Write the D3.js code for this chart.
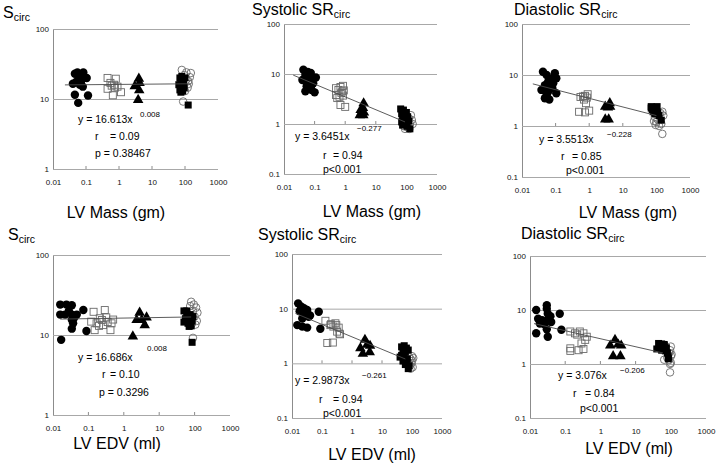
<!DOCTYPE html>
<html>
<head>
<meta charset="utf-8">
<script src="https://cdn.jsdelivr.net/npm/d3@7"></script>
<style>
  body { margin: 0; background: #fff; }
  svg { display: block; font-family: "Liberation Sans", Arial, sans-serif; }
</style>
</head>
<body>
<svg id="chart" width="718" height="467"></svg>
<script>
// ---- data ----
const xTicks = [0.01, 0.1, 1, 10, 100, 1000];
const yTicksS = [1, 10, 100];
const yTicksSR = [0.1, 1, 10, 100];

const titles = ['S', 'Systolic SR', 'Diastolic SR', 'S', 'Systolic SR', 'Diastolic SR'];
const xTitles = ['LV Mass (gm)', 'LV Mass (gm)', 'LV Mass (gm)', 'LV EDV (ml)', 'LV EDV (ml)', 'LV EDV (ml)'];
const eqCoef = ['16.613', '3.6451', '3.5513', '16.686', '2.9873', '3.076'];
const eqExp = ['0.008', '\u22120.277', '\u22120.228', '0.008', '\u22120.261', '\u22120.206'];
const rVals = ['0.09', '0.94', '0.85', '0.10', '0.94', '0.84'];
const pVals = ['p = 0.38467', 'p<0.001', 'p<0.001', 'p = 0.3296', 'p<0.001', 'p<0.001'];

// LV mass vs S circ
const mS_dot = [[0.046,23],[0.083,24],[0.105,20],[0.063,20],[0.05,17.5],[0.07,17.5],[0.065,16],[0.08,15],[0.04,16.5],[0.046,11.5],[0.115,11.2],[0.058,8.8],[0.06,22],[0.072,19],[0.055,24]];
const mS_box = [[0.45,20],[0.8,19.5],[0.55,17],[0.7,16],[0.9,15],[0.45,14],[0.75,14.5],[1.15,12.5],[0.65,11.3],[0.6,15.5]];
const mS_tri = [[4.0,19.5],[4.2,17],[3.0,15.2],[4.1,13.3],[3.8,9.7]];
const mS_blk = [[70,20],[85,19],[75,18],[90,17],[65,16],[80,15.5],[95,14.5],[70,13.5],[85,13],[75,12.5],[125,8.2],[100,20],[80,21]];
const mS_ring = [[80,26],[110,24],[150,23.5],[140,20.5],[125,18],[130,16.5],[120,14.5],[100,13],[88,9.2],[95,22],[110,19]];
const mS_fit = [[0.023,15.9],[150,16.5]];

// LV mass vs systolic SR circ
const mSys_dot = [[0.043,12.2],[0.06,11],[0.075,10.5],[0.05,9.5],[0.07,8.8],[0.11,8.5],[0.04,7.6],[0.06,7],[0.09,6.5],[0.055,5.7],[0.075,5.5],[0.05,4.5],[0.1,4.3],[0.08,4.8],[0.065,6],[0.085,7.5]];
const mSys_box = [[0.5,5.2],[0.7,5.5],[0.85,5.8],[0.6,4.8],[0.9,4.7],[0.75,4.2],[0.5,3.8],[0.65,3.5],[0.85,3.7],[0.55,3.3],[0.7,2.4],[1.0,2.2],[0.8,4.5]];
const mSys_tri = [[4.0,2.6],[3.8,2.1],[3.2,1.9],[3.5,1.75],[3.0,1.5],[3.9,1.5],[4.1,1.7]];
const mSys_blk = [[65,2.0],[80,1.9],[100,1.7],[70,1.6],[90,1.5],[110,1.4],[75,1.3],[95,1.2],[70,1.1],[85,1.0],[105,0.9],[75,0.95],[130,0.8],[120,1.15],[80,1.45]];
const mSys_ring = [[90,0.8],[110,0.85],[130,1.0],[150,1.2],[140,1.5],[120,1.3],[100,1.1],[160,1.0],[85,0.9],[125,0.8]];
const mSys_fit = [[0.02,9.5],[90,1.1]];

// LV mass vs diastolic SR circ
const mDia_dot = [[0.042,11.6],[0.054,10],[0.095,10.8],[0.076,8.6],[0.105,8.6],[0.06,7.4],[0.085,6.9],[0.048,6.3],[0.068,5.9],[0.038,5.1],[0.06,4.7],[0.105,4.4],[0.054,4.0],[0.048,3.5],[0.08,5.5],[0.065,3.3]];
const mDia_box = [[0.55,3.7],[0.75,3.9],[0.9,4.2],[0.85,3.6],[0.7,3.3],[0.8,2.8],[0.5,1.9],[0.75,1.85],[1.0,2.0],[0.65,3.8]];
const mDia_tri = [[3.0,2.4],[4.1,2.8],[3.6,2.3],[4.2,2.4],[3.0,1.35],[3.8,1.35]];
const mDia_blk = [[70,2.4],[85,2.3],[100,2.2],[75,2.1],[95,2.0],[80,1.9],[110,1.8],[90,1.75],[120,1.6],[140,1.3],[70,2.25],[105,2.4]];
const mDia_ring = [[90,1.5],[110,1.35],[130,1.8],[150,1.9],[100,1.2],[120,1.0],[140,1.1],[85,1.25],[160,1.6],[150,0.7],[95,1.05]];
const mDia_fit = [[0.021,6.7],[100,1.6]];

// LV EDV vs S circ
const eS_dot = [[0.016,24],[0.024,24],[0.034,23.5],[0.016,18],[0.022,18],[0.034,18],[0.047,18],[0.034,15.5],[0.037,14],[0.072,20.5],[0.034,12],[0.088,11.2],[0.017,8.7],[0.028,20],[0.04,16.5]];
const eS_box = [[0.14,19.5],[0.29,20.5],[0.21,16.2],[0.32,16.6],[0.17,14],[0.26,13.3],[0.45,14],[0.42,11.5],[0.15,11.5],[0.24,15.4],[0.5,15.6],[0.12,14.7],[0.35,14.5],[0.2,13]];
const eS_tri = [[2.8,19],[2.3,15.4],[3.2,15.4],[4.4,16.6],[3.9,13.3],[1.8,9.6]];
const eS_blk = [[50,20],[60,19],[75,18],[55,16],[70,15.5],[85,15],[50,14.5],[65,14],[80,13],[70,12.8],[90,17],[85,8.1],[60,20]];
const eS_ring = [[80,26],[95,24],[110,22],[90,20],[120,19],[100,17],[115,15],[85,14],[105,13.5],[90,9.2],[75,23]];
const eS_fit = [[0.016,15.8],[80,16.8]];

// LV EDV vs systolic SR circ
const eSys_dot = [[0.016,12.5],[0.02,11],[0.025,10.2],[0.032,9.5],[0.028,7.7],[0.036,7.1],[0.022,6.6],[0.015,5.0],[0.022,4.7],[0.032,4.5],[0.078,8.8],[0.088,4.3],[0.04,7.5],[0.03,8.5],[0.018,9]];
const eSys_box = [[0.13,6.0],[0.19,5.0],[0.28,5.4],[0.36,4.5],[0.32,3.8],[0.4,3.4],[0.24,4.7],[0.15,2.35],[0.23,2.4],[0.3,5.0],[0.38,3.5],[0.2,5.2]];
const eSys_tri = [[2.7,2.7],[4.0,2.1],[1.9,1.9],[2.3,1.5],[3.9,1.6],[3.2,2.2]];
const eSys_blk = [[45,2.0],[55,2.1],[65,1.9],[50,1.7],[60,1.6],[75,1.75],[45,1.4],[55,1.3],[70,1.2],[50,1.1],[65,1.05],[80,0.9],[60,0.95],[75,0.8],[40,1.3]];
const eSys_ring = [[80,1.3],[90,1.2],[100,1.1],[95,1.0],[85,0.9],[105,0.85],[110,1.25],[75,1.05],[100,1.35],[90,0.8]];
const eSys_fit = [[0.013,8.2],[60,1.2]];

// LV EDV vs diastolic SR circ
const eDia_dot = [[0.015,10],[0.017,6.9],[0.019,5.6],[0.015,3.7],[0.022,6.5],[0.03,12.3],[0.03,10.5],[0.032,8.5],[0.03,6.3],[0.03,4.4],[0.032,3.2],[0.038,7.7],[0.07,8.5],[0.078,4.3],[0.025,5.5],[0.04,6]];
const eDia_box = [[0.14,4.0],[0.19,3.7],[0.26,4.0],[0.33,3.7],[0.41,3.2],[0.37,2.8],[0.29,2.4],[0.14,1.95],[0.14,1.75],[0.24,1.8],[0.33,1.9],[0.22,3.5]];
const eDia_tri = [[2.6,2.8],[1.9,2.2],[3.2,2.3],[3.9,2.2],[2.3,1.4],[3.7,1.4]];
const eDia_blk = [[45,2.4],[55,2.35],[65,2.2],[50,2.1],[60,2.0],[75,2.0],[40,1.9],[55,1.8],[70,1.75],[80,1.6],[85,1.35],[85,1.25],[65,2.3]];
const eDia_ring = [[100,2.1],[95,1.8],[90,1.6],[100,1.4],[65,1.2],[90,1.2],[100,1.05],[95,1.0],[105,1.5],[95,0.7],[80,1.3]];
const eDia_fit = [[0.013,5.6],[60,1.6]];

// ---- layout (pixel boxes and text anchors per panel) ----
const panels = [
  { l: 53, r: 218, t: 29, b: 169, yd: [1, 100], yt: yTicksS,
    title: [3, 18], xt: [116, 218], eq: [78, 123], ex: [140, 117], rt: [95, 110, 140], pt: [95, 157],
    pts: [mS_dot, mS_box, mS_tri, mS_blk, mS_ring], fit: mS_fit },
  { l: 284, r: 437, t: 24, b: 174, yd: [0.1, 100], yt: yTicksSR,
    title: [252, 15], xt: [372, 217], eq: [295, 140], ex: [357, 131], rt: [323, 333, 159], pt: [323, 173],
    pts: [mSys_dot, mSys_box, mSys_tri, mSys_blk, mSys_ring], fit: mSys_fit },
  { l: 522, r: 690, t: 24, b: 177, yd: [0.1, 100], yt: yTicksSR,
    title: [514, 15], xt: [628, 218], eq: [539, 143], ex: [607, 137], rt: [561, 572, 160], pt: [566, 174],
    pts: [mDia_dot, mDia_box, mDia_tri, mDia_blk, mDia_ring], fit: mDia_fit },
  { l: 53, r: 230, t: 255, b: 415, yd: [1, 100], yt: yTicksS,
    title: [8, 240], xt: [117, 449], eq: [78, 361], ex: [147, 351], rt: [102, 110, 378], pt: [99, 396],
    pts: [eS_dot, eS_box, eS_tri, eS_blk, eS_ring], fit: eS_fit },
  { l: 292, r: 442, t: 254, b: 418, yd: [0.1, 100], yt: yTicksSR,
    title: [258, 240], xt: [372, 460], eq: [295, 384], ex: [362, 378], rt: [319, 333, 403], pt: [323, 417],
    pts: [eSys_dot, eSys_box, eSys_tri, eSys_blk, eSys_ring], fit: eSys_fit },
  { l: 530, r: 706, t: 256, b: 418, yd: [0.1, 100], yt: yTicksSR,
    title: [521, 239], xt: [629, 454], eq: [558, 379], ex: [620, 373], rt: [573, 585, 397], pt: [580, 412],
    pts: [eDia_dot, eDia_box, eDia_tri, eDia_blk, eDia_ring], fit: eDia_fit }
];

const svg = d3.select('#chart');
const fmt = d3.format('~g');

panels.forEach((p, i) => {
  const x = d3.scaleLog().domain([0.01, 1000]).range([p.l, p.r]);
  const y = d3.scaleLog().domain(p.yd).range([p.b, p.t]);
  const g = svg.append('g');

  // gridlines + y labels
  const ya = g.append('g')
    .attr('transform', `translate(${p.l},0)`)
    .call(d3.axisLeft(y).tickValues(p.yt).tickFormat(fmt).tickSize(-(p.r - p.l)).tickSizeOuter(0).tickPadding(4));
  ya.select('.domain').attr('stroke', '#8c8c8c');
  ya.selectAll('.tick line').attr('stroke', '#a8a8a8');
  ya.selectAll('text').attr('font-size', 8).attr('fill', '#111');
  ya.attr('font-family', null);

  // x labels
  const xa = g.append('g')
    .attr('transform', `translate(0,${p.b})`)
    .call(d3.axisBottom(x).tickValues(xTicks).tickFormat(fmt).tickSize(0).tickPadding(10));
  xa.select('.domain').remove();
  xa.selectAll('text').attr('font-size', 8).attr('fill', '#111');
  xa.attr('font-family', null);

  // small tick marks where the x axis crosses (y = 1)
  g.selectAll('line.xt').data(xTicks.slice(1, -1)).join('line')
    .attr('x1', d => x(d)).attr('x2', d => x(d))
    .attr('y1', y(1)).attr('y2', y(1) - 3)
    .attr('stroke', '#8c8c8c');

  const [dot, box, tri, blk, ring] = p.pts;

  g.selectAll('circle.dot').data(dot).join('circle')
    .attr('cx', d => x(d[0])).attr('cy', d => y(d[1])).attr('r', 4.2)
    .attr('fill', '#000');

  g.selectAll('rect.box').data(box).join('rect')
    .attr('x', d => x(d[0]) - 3.5).attr('y', d => y(d[1]) - 3.5)
    .attr('width', 7).attr('height', 7)
    .attr('fill', 'none').attr('stroke', '#6a6a6a').attr('stroke-width', 0.9);

  g.selectAll('path.tri').data(tri).join('path')
    .attr('transform', d => `translate(${x(d[0])},${y(d[1])})`)
    .attr('d', d3.symbol().type(d3.symbolTriangle).size(48))
    .attr('fill', '#000');

  g.selectAll('circle.ring').data(ring).join('circle')
    .attr('cx', d => x(d[0])).attr('cy', d => y(d[1])).attr('r', 3.8)
    .attr('fill', 'none').attr('stroke', '#6a6a6a').attr('stroke-width', 0.9);

  g.selectAll('rect.blk').data(blk).join('rect')
    .attr('x', d => x(d[0]) - 3.5).attr('y', d => y(d[1]) - 3.5)
    .attr('width', 7).attr('height', 7)
    .attr('fill', '#000');

  // power trend line
  g.append('path')
    .attr('d', d3.line().x(d => x(d[0])).y(d => y(d[1]))(p.fit))
    .attr('fill', 'none').attr('stroke', '#4a4a4a').attr('stroke-width', 0.9);

  // panel title with subscript
  const tt = g.append('text').attr('x', p.title[0]).attr('y', p.title[1])
    .attr('font-size', 16).attr('fill', '#000');
  tt.append('tspan').text(titles[i]);
  tt.append('tspan').attr('font-size', 10.5).attr('dy', 3).text('circ');

  // x axis title
  g.append('text').attr('x', p.xt[0]).attr('y', p.xt[1])
    .attr('text-anchor', 'middle').attr('font-size', 16).attr('fill', '#000')
    .text(xTitles[i]);

  // regression annotation
  g.append('text').attr('x', p.eq[0]).attr('y', p.eq[1])
    .attr('font-size', 10.5).text(`y = ${eqCoef[i]}x`);
  g.append('text').attr('x', p.ex[0]).attr('y', p.ex[1])
    .attr('font-size', 8).text(eqExp[i]);
  g.append('text').attr('x', p.rt[0]).attr('y', p.rt[2])
    .attr('font-size', 10.5).text('r');
  g.append('text').attr('x', p.rt[1]).attr('y', p.rt[2])
    .attr('font-size', 10.5).text(`= ${rVals[i]}`);
  g.append('text').attr('x', p.pt[0]).attr('y', p.pt[1])
    .attr('font-size', 10.5).text(pVals[i]);
});
</script>
</body>
</html>
